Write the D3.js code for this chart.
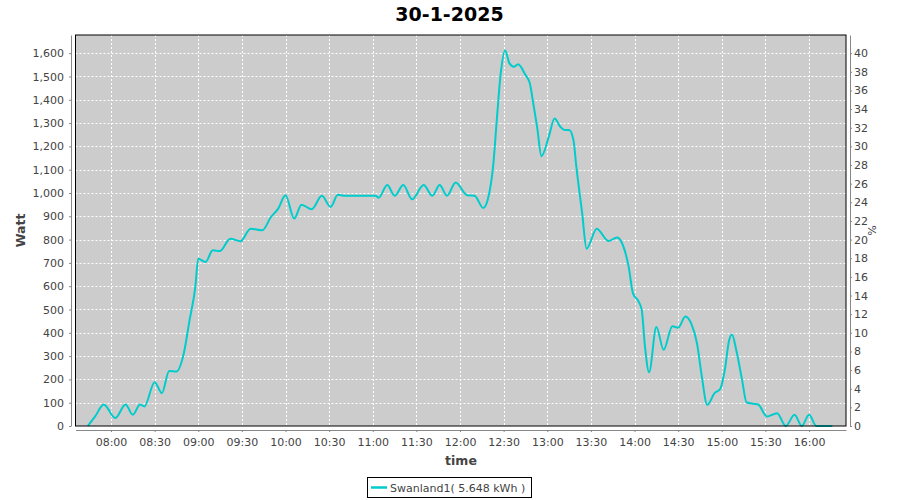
<!DOCTYPE html>
<html><head><meta charset="utf-8">
<script src="https://cdn.jsdelivr.net/npm/d3@7"></script>
<style>
body{margin:0;background:#fff;}
svg{display:block;font-family:"DejaVu Sans",sans-serif;}
</style>
</head><body>
<svg id="c" width="900" height="500"></svg>
<script>
const chartTitle = "30-1-2025";
const seriesName = "Swanland1( 5.648 kWh )";
const yLabel = "Watt";
const y2Label = "%";
const xLabel = "time";

const times = ["07:44","07:49","07:55","08:03","08:10","08:15","08:20","08:23","08:30","08:35",
  "08:40","08:45","08:50","08:54","08:58","09:00","09:05","09:10","09:15","09:22",
  "09:29","09:36","09:44","09:50","09:55","10:00","10:06","10:11","10:18","10:25",
  "10:31","10:36","10:40","11:02","11:04","11:10","11:15","11:21","11:27","11:35",
  "11:41","11:46","11:51","11:57","12:05","12:10","12:16","12:19","12:23","12:25",
  "12:28","12:31","12:34","12:37","12:40","12:45","12:48","12:50","12:53","12:56",
  "13:01","13:05","13:09","13:12","13:15","13:18","13:20","13:24","13:27","13:34",
  "13:42","13:48","13:51","13:56","13:59","14:03","14:05","14:07","14:10","14:15",
  "14:20","14:26","14:30","14:35","14:39","14:43","14:46","14:50","14:55","14:59",
  "15:02","15:05","15:07","15:10","15:14","15:17","15:22","15:25","15:31","15:38",
  "15:44","15:50","15:55","16:00","16:05","16:10","16:16"];
const watts = [0,40,92,34,92,48,92,84,188,141,
  236,234,310,453,597,718,704,754,751,804,
  793,847,840,897,933,990,890,950,930,988,
  940,992,988,988,980,1034,988,1034,973,1034,
  988,1034,988,1045,990,988,936,970,1130,1290,
  1514,1612,1556,1542,1553,1506,1471,1399,1284,1158,
  1241,1320,1284,1270,1270,1227,1112,912,761,847,
  794,809,790,682,568,532,496,353,231,425,
  327,428,422,470,439,353,224,91,141,160,
  238,367,393,324,196,102,95,92,41,55,
  0,48,0,48,0,0,0];

const wattTicks = d3.range(0, 1601, 100);
const pctTicks = d3.range(0, 41, 2);
const timeTicks = ["08:00","08:30","09:00","09:30","10:00","10:30","11:00","11:30",
  "12:00","12:30","13:00","13:30","14:00","14:30","15:00","15:30","16:00"];
const timeDomain = ["07:35:36","16:25:24"];
const wattMax = 1678;

const parseHM = d3.timeParse("%H:%M");
const parseHMS = d3.timeParse("%H:%M:%S");
const data = times.map((t,i)=>({t:parseHM(t), w:watts[i]}));

const L = 75.5, R = 846, T = 35, B = 426;
const svg = d3.select("#c");

const x = d3.scaleTime().domain(timeDomain.map(parseHMS)).range([L, R]);
const y = d3.scaleLinear().domain([0, wattMax]).range([B, T]);
const y2 = d3.scaleLinear().domain([0, wattMax/40]).range([B, T]);

// title
svg.append("text").attr("x", 449.5).attr("y", 21).attr("text-anchor","middle")
  .attr("font-size", 19).attr("font-weight","bold").attr("fill","#000").text(chartTitle);

// plot background
svg.append("rect").attr("x", L).attr("y", T).attr("width", R-L).attr("height", B-T).attr("fill","#cccccc");

// grid
const grid = svg.append("g").attr("stroke","#fff").attr("stroke-width",1).attr("stroke-dasharray","2,2");
grid.selectAll("line.h").data(wattTicks.filter(d=>d>0)).join("line")
  .attr("x1", L).attr("x2", R)
  .attr("y1", d=>Math.round(y(d))+0.5).attr("y2", d=>Math.round(y(d))+0.5);
grid.selectAll("line.v").data(timeTicks).join("line")
  .attr("y1", T).attr("y2", B)
  .attr("x1", d=>Math.round(x(parseHM(d)))+0.5).attr("x2", d=>Math.round(x(parseHM(d)))+0.5);

// line
svg.append("clipPath").attr("id","clip").append("rect").attr("x",L).attr("y",T).attr("width",R-L).attr("height",B-T+1);
const line = d3.line().x(d=>x(d.t)).y(d=>y(d.w)).curve(d3.curveMonotoneX);
svg.append("path").datum(data).attr("clip-path","url(#clip)")
  .attr("fill","none").attr("stroke","#00cccc").attr("stroke-width",2)
  .attr("stroke-linejoin","round").attr("d", line);

// border
svg.append("rect").attr("x", L).attr("y", T).attr("width", R-L).attr("height", B-T)
  .attr("fill","none").attr("stroke","#000").attr("stroke-width",1);

function styleAxis(g){
  g.selectAll(".domain").attr("stroke","#888");
  g.selectAll(".tick line").attr("stroke","#888");
  g.selectAll(".tick text").attr("fill","#444").attr("font-size",11).attr("font-family","DejaVu Sans");
}

// left axis
const ya = d3.axisLeft(y).tickValues(wattTicks).tickFormat(d3.format(",")).tickSize(2).tickSizeOuter(0).tickPadding(5);
svg.append("g").attr("transform","translate(71,0)").call(ya).call(styleAxis);

// right axis
const y2a = d3.axisRight(y2).tickValues(pctTicks).tickSize(2).tickSizeOuter(0).tickPadding(2);
svg.append("g").attr("transform","translate(850,0)").call(y2a).call(styleAxis);

// bottom axis
const xa = d3.axisBottom(x).tickValues(timeTicks.map(parseHM)).tickFormat(d3.timeFormat("%H:%M")).tickSize(2).tickSizeOuter(0).tickPadding(6);
svg.append("g").attr("transform","translate(0,430)").call(xa).call(styleAxis);

// axis labels
svg.append("text").attr("transform","translate(25,230.5) rotate(-90)").attr("text-anchor","middle")
  .attr("font-size",12.5).attr("font-weight","bold").attr("fill","#444").text(yLabel);
svg.append("text").attr("x",461).attr("y",465).attr("text-anchor","middle")
  .attr("font-size",12.5).attr("font-weight","bold").attr("fill","#444").text(xLabel);
svg.append("text").attr("transform","translate(868,230.5) rotate(90)").attr("text-anchor","middle")
  .attr("font-size",11).attr("fill","#444").text(y2Label);

// legend
svg.append("rect").attr("x",367.5).attr("y",477.5).attr("width",164).attr("height",20)
  .attr("fill","#fff").attr("stroke","#000").attr("stroke-width",1);
svg.append("line").attr("x1",371).attr("x2",387).attr("y1",487.5).attr("y2",487.5)
  .attr("stroke","#00cccc").attr("stroke-width",2.5);
svg.append("text").attr("x",390).attr("y",492).attr("font-size",11).attr("fill","#444").text(seriesName);
</script>
</body></html>
